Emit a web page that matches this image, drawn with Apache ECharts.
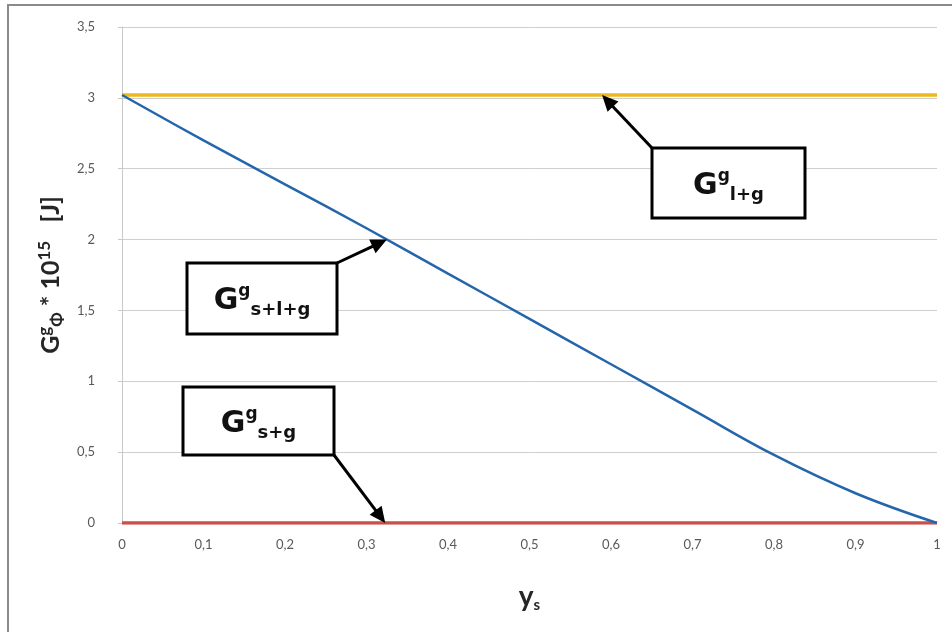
<!DOCTYPE html>
<html>
<head>
<meta charset="utf-8">
<script src="https://cdn.jsdelivr.net/npm/echarts@6/dist/echarts.min.js"></script>
<style>
  html, body { margin: 0; padding: 0; background: #ffffff; }
  #chart { width: 952px; height: 632px; }
</style>
</head>
<body>
<div id="chart"></div>
<script>
// Solid fraction y_s along the horizontal axis
const ysPoints = [0, 0.1, 0.2, 0.3, 0.4, 0.5, 0.6, 0.7, 0.8, 0.9, 1];
// Gibbs energy of the solid + liquid + gas configuration (×10^15 J)
const gSolidLiquidGas = [3.02, 2.70, 2.39, 2.08, 1.76, 1.44, 1.12, 0.80, 0.48, 0.21, 0];
// Liquid + gas and solid + gas configurations are constant over y_s
const ysEnds = [0, 1];
const gLiquidGas = [3.02, 3.02];
const gSolidGas = [0, 0];

const xTickLabels = ['0', '0,1', '0,2', '0,3', '0,4', '0,5', '0,6', '0,7', '0,8', '0,9', '1'];
const yTickLabels = ['0', '0,5', '1', '1,5', '2', '2,5', '3', '3,5'];

// Call-out labels and the curve points their arrows point at
const calloutSubs = ['l+g', 's+l+g', 's+g'];
const calloutTips = [[0.589, 3.02], [0.325, 2.0], [0.323, 0]];

// Call-out box layout (pixels) and which box corner the arrow leaves from
const calloutBoxes = [
  { x: 652, y: 148, w: 153, h: 70, corner: 'tl' },
  { x: 187, y: 263, w: 150, h: 71, corner: 'tr' },
  { x: 183, y: 387, w: 151, h: 68, corner: 'br' }
];

const toPairs = (xs, ys) => xs.map((x, i) => [x, ys[i]]);

const chart = echarts.init(document.getElementById('chart'), null, { renderer: 'canvas' });

const axisFont = 'Lato, "Open Sans", sans-serif';

chart.setOption({
  animation: false,
  backgroundColor: '#ffffff',
  grid: { left: 122, right: 15, top: 27, bottom: 109, containLabel: false },
  xAxis: {
    type: 'value',
    min: 0, max: 1, interval: 0.1,
    axisLine: { show: false },
    axisTick: { show: false },
    splitLine: { show: false },
    axisLabel: {
      margin: 15,
      color: '#595959',
      fontFamily: axisFont,
      fontSize: 13,
      formatter: (v, i) => xTickLabels[i]
    },
    name: '{b|y}{sub|s}',
    nameLocation: 'middle',
    nameGap: 58,
    nameTextStyle: {
      rich: {
        b: { fontFamily: axisFont, fontWeight: 'bold', fontSize: 28, lineHeight: 32, color: '#262626' },
        sub: { fontFamily: axisFont, fontWeight: 'bold', fontSize: 15, lineHeight: 12, verticalAlign: 'bottom', color: '#262626' }
      }
    }
  },
  yAxis: {
    type: 'value',
    min: 0, max: 3.5, interval: 0.5,
    axisLine: { show: true, lineStyle: { color: '#c8c8c8', width: 1 } },
    axisTick: { show: true, length: 4, lineStyle: { color: '#c8c8c8' } },
    splitLine: { show: true, lineStyle: { color: '#cfcfcf', width: 1 } },
    axisLabel: {
      margin: 27,
      color: '#595959',
      fontFamily: axisFont,
      fontSize: 13,
      formatter: (v, i) => yTickLabels[i]
    },
    name: '{b|G}{sup|g}{sub|Φ}{b| * 10}{sup|15}{b|   [J]}',
    nameLocation: 'middle',
    nameRotate: 90,
    nameGap: 51,
    nameTextStyle: {
      rich: {
        b: { fontFamily: axisFont, fontWeight: 'bold', fontSize: 25, lineHeight: 30, color: '#262626' },
        sup: { fontFamily: axisFont, fontWeight: 'bold', fontSize: 17, lineHeight: 14, verticalAlign: 'top', color: '#262626' },
        sub: { fontFamily: axisFont, fontWeight: 'bold', fontSize: 17, lineHeight: 10, verticalAlign: 'bottom', color: '#262626' }
      }
    }
  },
  series: [
    {
      name: 'G_l+g', type: 'line', data: toPairs(ysEnds, gLiquidGas),
      symbol: 'none', lineStyle: { color: '#ebb81e', width: 3.5 }, z: 3
    },
    {
      name: 'G_s+g', type: 'line', data: toPairs(ysEnds, gSolidGas),
      symbol: 'none', lineStyle: { color: '#c9504a', width: 3.5 }, z: 3
    },
    {
      name: 'G_s+l+g', type: 'line', data: toPairs(ysPoints, gSolidLiquidGas),
      symbol: 'none', smooth: 0.4, lineStyle: { color: '#2466ac', width: 2.5 }, z: 4
    }
  ]
});

// Builds an arrow (shaft + filled head) from a box corner to a curve point
function arrowElements(from, to) {
  const dx = to[0] - from[0], dy = to[1] - from[1];
  const len = Math.sqrt(dx * dx + dy * dy);
  const ux = dx / len, uy = dy / len;
  const headLen = 16, headHalf = 7.5;
  const bx = to[0] - ux * headLen, by = to[1] - uy * headLen;
  return [
    {
      type: 'line', z: 20,
      shape: { x1: from[0], y1: from[1], x2: bx + ux * 2, y2: by + uy * 2 },
      style: { stroke: '#000', lineWidth: 3 }
    },
    {
      type: 'polygon', z: 20,
      shape: { points: [to, [bx - uy * headHalf, by + ux * headHalf], [bx + uy * headHalf, by - ux * headHalf]] },
      style: { fill: '#000' }
    }
  ];
}

const boxRich = {
  G: { fontFamily: '"DejaVu Sans"', fontWeight: 'bold', fontSize: 30, lineHeight: 36, fill: '#111' },
  sup: { fontFamily: '"DejaVu Sans"', fontWeight: 'bold', fontSize: 17, lineHeight: 18, verticalAlign: 'top', fill: '#111' },
  sub: { fontFamily: '"DejaVu Sans"', fontWeight: 'bold', fontSize: 18, lineHeight: 12, verticalAlign: 'bottom', fill: '#111' }
};

const graphics = [
  {
    type: 'rect', z: -1, silent: true,
    shape: { x: 8, y: 5, width: 980, height: 660 },
    style: { fill: 'none', stroke: '#8a8a8a', lineWidth: 2 }
  }
];

calloutBoxes.forEach((b, i) => {
  const corner = {
    tl: [b.x, b.y], tr: [b.x + b.w, b.y],
    bl: [b.x, b.y + b.h], br: [b.x + b.w, b.y + b.h]
  }[b.corner];
  const tip = chart.convertToPixel({ gridIndex: 0 }, calloutTips[i]);
  graphics.push(...arrowElements(corner, tip));
  graphics.push({
    type: 'rect', z: 21,
    shape: { x: b.x, y: b.y, width: b.w, height: b.h },
    style: { fill: '#ffffff', stroke: '#000000', lineWidth: 3 }
  });
  graphics.push({
    type: 'text', z: 22,
    style: {
      text: '{G|G}{sup|g}{sub|' + calloutSubs[i] + '}',
      x: b.x + b.w / 2,
      y: b.y + b.h / 2 + 3,
      align: 'center',
      verticalAlign: 'middle',
      rich: boxRich
    }
  });
});

chart.setOption({ graphic: graphics });
</script>
</body>
</html>
